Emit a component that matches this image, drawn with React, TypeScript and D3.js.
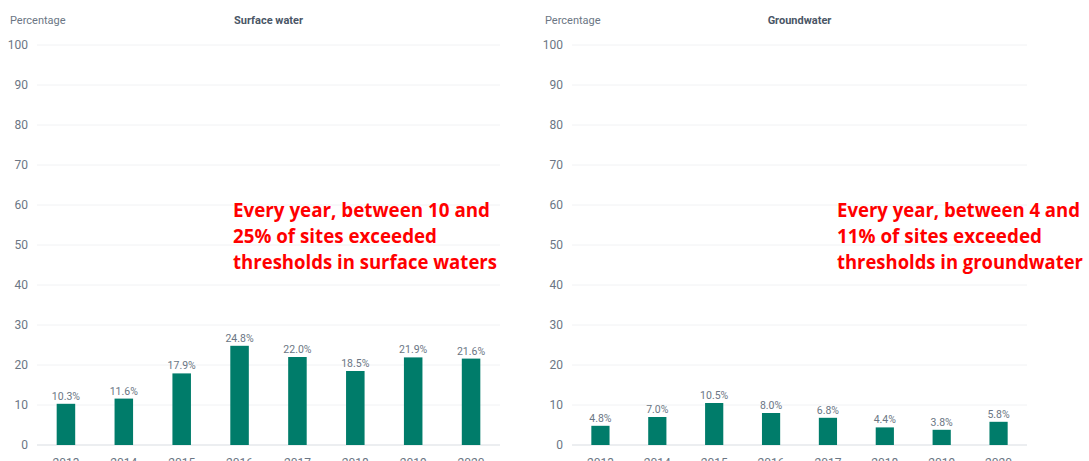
import React from "react";
import * as d3 from "d3";

const years = ["2013", "2014", "2015", "2016", "2017", "2018", "2019", "2020"];
const surfaceValues = [10.3, 11.6, 17.9, 24.8, 22.0, 18.5, 21.9, 21.6];
const groundValues = [4.8, 7.0, 10.5, 8.0, 6.8, 4.4, 3.8, 5.8];
const yTicks = [0, 10, 20, 30, 40, 50, 60, 70, 80, 90, 100];
const surfaceNote = ["Every year, between 10 and", "25% of sites exceeded", "thresholds in surface waters"];
const groundNote = ["Every year, between 4 and", "11% of sites exceeded", "thresholds in groundwater"];

const FONT = "Roboto, 'Noto Sans', sans-serif";
const GRAY = "#6b7684";
const BAR = "#007c6a";

function Panel({ title, values, x0, x1, labelX, pctX, note, noteX, noteWidths }: any) {
  const y = d3.scaleLinear().domain([0, 100]).range([445, 45]);
  const x = d3.scaleBand().domain(years).range([x0, x1]).paddingInner(0.68).paddingOuter(0.34);
  const bw = x.bandwidth();
  return (
    <g>
      <text x={pctX} y={24} fontSize={11} fill={GRAY} fontFamily={FONT}>Percentage</text>
      <text x={(x0 + x1) / 2} y={24} fontSize={11} fontWeight="bold" fill="#4a5666" textAnchor="middle" fontFamily={FONT}>{title}</text>
      {yTicks.map((t) => (
        <g key={t}>
          <line x1={x0} x2={x1} y1={y(t)} y2={y(t)} stroke={t === 0 ? "#d9dde2" : "#f1f2f4"} strokeWidth={1} />
          <text x={labelX} y={y(t)} dy="0.35em" fontSize={12} fill={GRAY} textAnchor="end" fontFamily={FONT}>{t}</text>
        </g>
      ))}
      {values.map((v: number, i: number) => (
        <g key={years[i]}>
          <rect x={x(years[i])} y={y(v)} width={bw} height={y(0) - y(v)} fill={BAR} />
          <text x={(x(years[i]) as number) + bw / 2} y={y(v) - 4} fontSize={10.5} fill={GRAY} textAnchor="middle" fontFamily={FONT}>
            {v.toFixed(1) + "%"}
          </text>
          <text x={(x(years[i]) as number) + bw / 2} y={467} fontSize={12} fill={GRAY} textAnchor="middle" fontFamily={FONT}>{years[i]}</text>
        </g>
      ))}
      {note.map((line: string, i: number) => (
        <text key={i} x={noteX} y={217 + i * 26} fontSize={20} fontWeight="bold" fill="#ff0000"
          fontFamily="'Open Sans', 'Noto Sans', sans-serif" textLength={noteWidths[i]} lengthAdjust="spacingAndGlyphs">
          {line}
        </text>
      ))}
    </g>
  );
}

export default function App() {
  return (
    <svg width={1089} height={461} style={{ position: "absolute", left: 0, top: 0, background: "#fff" }}>
      <rect width={1089} height={461} fill="#fff" />
      <Panel title="Surface water" values={surfaceValues} x0={37} x1={500} labelX={28} pctX={10}
        note={surfaceNote} noteX={233} noteWidths={[257, 204, 264]} />
      <Panel title="Groundwater" values={groundValues} x0={572} x1={1027} labelX={563} pctX={545}
        note={groundNote} noteX={837} noteWidths={[243, 205, 246]} />
    </svg>
  );
}
